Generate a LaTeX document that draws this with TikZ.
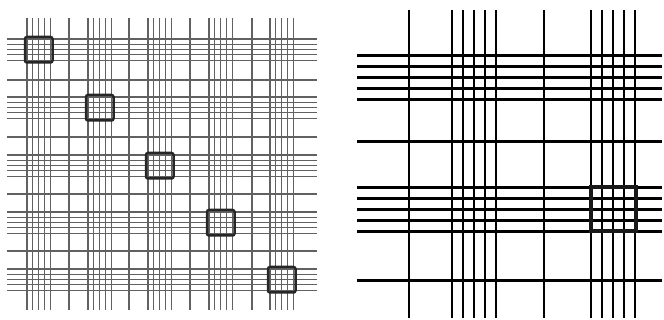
\documentclass[tikz,border=0pt]{standalone}
\begin{document}
\begin{tikzpicture}[x=1pt,y=-1pt,
  thin grid/.style={draw=black!62,line width=1.1pt},
  thin box/.style={draw=black!85,line width=2.5pt,rounded corners=2pt},
  bold grid/.style={draw=black,line width=2.4pt},
  bold box/.style={draw=black!90,line width=4pt}]
\useasboundingbox[fill=white] (0,0) rectangle (664,320);
% ---- left panel ----
\foreach \g in {27,88,148,209,270}{
  \foreach \d in {0,5.8,11.6,17.4,23.2}{
    \draw[thin grid] (\g+\d,18) -- (\g+\d,310);
  }
}
\foreach \s in {69,129,190,252}{
  \draw[thin grid] (\s,18) -- (\s,310);
}
\foreach \g in {39,97,155,212,269}{
  \foreach \d in {0,5.3,10.6,15.9,21.2}{
    \draw[thin grid] (7,\g+\d) -- (317,\g+\d);
  }
}
\foreach \s in {80,137,194,251}{
  \draw[thin grid] (7,\s) -- (317,\s);
}
\foreach \x/\y in {27/39,88/97,148/155,209/212,270/269}{
  \draw[thin box] (\x-2,\y-2) rectangle (\x+25.5,\y+23.5);
}
% ---- right panel ----
\foreach \x in {409,451.7,462.7,473.8,484.8,495.7,544,590.7,601.7,612.7,623.8,634.8}{
  \draw[bold grid] (\x,10) -- (\x,318);
}
\foreach \y in {55.7,66.7,77.7,88.7,99.7,141.7,187.7,198.7,209.7,220.7,231.7,280.7}{
  \draw[bold grid] (357,\y) -- (662,\y);
}
\draw[bold box] (590.5,187.5) rectangle (635.5,231.5);
\end{tikzpicture}
\end{document}
